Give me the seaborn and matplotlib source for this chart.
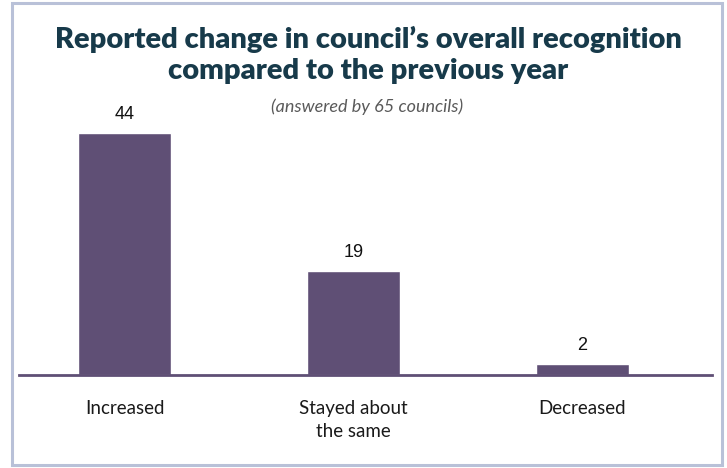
import matplotlib
matplotlib.use("Agg")
import matplotlib.pyplot as plt
from matplotlib.patches import Rectangle
import seaborn as sns
import pandas as pd

# Survey responses
categories = ["Increased", "Stayed about\nthe same", "Decreased"]
councils = [44, 19, 2]

title = "Reported change in council\u2019s overall recognition\ncompared to the previous year"
subtitle = "(answered by 65 councils)"

BAR = "#5f4f75"
TITLE_C = "#173a4a"

sns.set_theme(style="white")
plt.rcParams["font.family"] = ["Lato", "DejaVu Sans"]

df = pd.DataFrame({"category": categories, "councils": councils})

W, H = 727, 468
fig = plt.figure(figsize=(W / 100, H / 100), dpi=100)

# outer frame
fig.patches.append(Rectangle((12 / W, 3 / H), 710 / W, 462 / H,
                             transform=fig.transFigure, fill=False,
                             edgecolor="#b9c1d8", linewidth=2.2))

ax = fig.add_axes([19 / W, (H - 375) / H, (712 - 19) / W, (375 - 100) / H])
sns.barplot(data=df, x="category", y="councils", color=BAR, width=0.406,
            saturation=1, ax=ax)

ax.set_xlim(-0.461, 2.566)
ax.set_ylim(0, 50)

for p, v in zip(ax.patches, councils):
    ax.annotate(f"{v}", (p.get_x() + p.get_width() / 2, p.get_height()),
                xytext=(0, 7), textcoords="offset points", ha="center",
                va="bottom", fontsize=13, color="#111111",
                family=["Liberation Sans", "DejaVu Sans"])

for s in ["top", "right", "left"]:
    ax.spines[s].set_visible(False)
ax.spines["bottom"].set_color(BAR)
ax.spines["bottom"].set_linewidth(2)
ax.set_yticks([])
ax.set_xlabel("")
ax.set_ylabel("")
ax.tick_params(axis="x", length=0, pad=18, labelsize=13.5, labelcolor="#1a1a1a")
for t in ax.get_xticklabels():
    t.set_linespacing(1.45)

fig.text(368 / W, 1 - 55 / H, title, ha="center", va="center",
         fontsize=21, fontweight="heavy", color=TITLE_C, linespacing=1.25)
fig.text(367 / W, 1 - 107 / H, subtitle, ha="center", va="center",
         fontsize=13, style="italic", fontweight="normal", color="#5a5a5a")

fig.savefig("out.png", dpi=100)
